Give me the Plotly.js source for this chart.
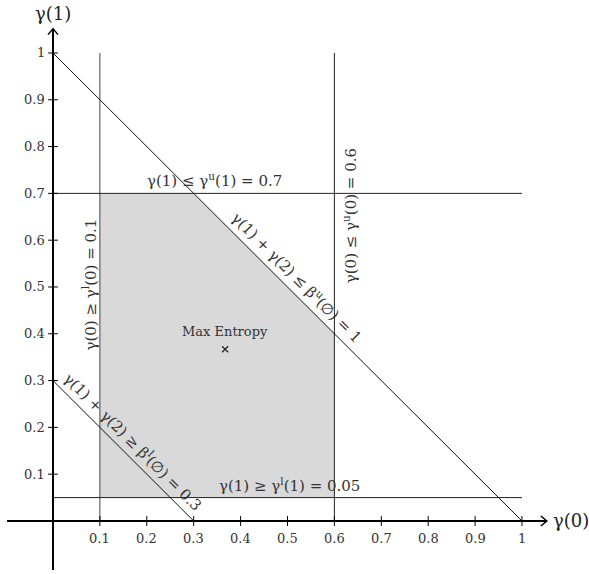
<!DOCTYPE html>
<html><head><meta charset="utf-8">
<script src="https://cdn.plot.ly/plotly-3.0.1.min.js"></script>
<style>html,body{margin:0;padding:0;background:#fff}#chart{width:589px;height:574px}</style>
</head><body><div id="chart"></div>
<script>
// ---- data ----
const xTickValues = [0.1,0.2,0.3,0.4,0.5,0.6,0.7,0.8,0.9,1];
const xTickLabels = ['0.1','0.2','0.3','0.4','0.5','0.6','0.7','0.8','0.9','1'];
const yTickValues = [0.1,0.2,0.3,0.4,0.5,0.6,0.7,0.8,0.9,1];
const yTickLabels = ['0.1','0.2','0.3','0.4','0.5','0.6','0.7','0.8','0.9','1'];
const gamma0Lower = 0.1;   // γ^l(0)
const gamma0Upper = 0.6;   // γ^u(0)
const gamma1Lower = 0.05;  // γ^l(1)
const gamma1Upper = 0.7;   // γ^u(1)
const betaUpper = 1;       // β^u(∅)
const betaLower = 0.3;     // β^l(∅)
const maxEntropyX = [0.367];
const maxEntropyY = [0.367];

// feasible region polygon from constraints
const polyX = [gamma0Lower, gamma0Upper, gamma0Upper, betaUpper-gamma1Upper, gamma0Lower, gamma0Lower];
const polyY = [gamma1Lower, gamma1Lower, betaUpper-gamma0Upper, gamma1Upper, gamma1Upper, gamma1Lower];

const FONT = 'DejaVu Serif';
const traces = [];
traces.push({x: polyX, y: polyY, mode:'lines', fill:'toself', fillcolor:'#d9d9d9', line:{width:0}, hoverinfo:'skip'});
// constraint lines
traces.push({x:[gamma0Lower,gamma0Lower], y:[0,1], mode:'lines', line:{color:'#444',width:1}});
traces.push({x:[gamma0Upper,gamma0Upper], y:[0,1], mode:'lines', line:{color:'#222',width:1}});
traces.push({x:[0,1], y:[gamma1Upper,gamma1Upper], mode:'lines', line:{color:'#222',width:1}});
traces.push({x:[0,1], y:[gamma1Lower,gamma1Lower], mode:'lines', line:{color:'#222',width:1}});
traces.push({x:[0,betaUpper], y:[betaUpper,0], mode:'lines', line:{color:'#111',width:1}});
traces.push({x:[0,betaLower], y:[betaLower,0], mode:'lines', line:{color:'#111',width:1}});
// axes
traces.push({x:[-0.098,1.052], y:[0,0], mode:'lines', line:{color:'#000',width:2}});
traces.push({x:[0,0], y:[-0.105,1.05], mode:'lines', line:{color:'#000',width:2}});
// tick marks
traces.push({x:xTickValues, y:xTickValues.map(()=>0), mode:'markers', marker:{symbol:'line-ns-open',size:7,color:'#000',line:{color:'#000',width:1}}});
traces.push({x:yTickValues.map(()=>0), y:yTickValues, mode:'markers', marker:{symbol:'line-ew-open',size:7,color:'#000',line:{color:'#000',width:1}}});
// max entropy marker
traces.push({x:maxEntropyX, y:maxEntropyY, mode:'markers', marker:{symbol:'x-thin-open',size:6,color:'#222',line:{color:'#222',width:1.2}}});

const dx = 6/469, dy = 5/468;
const shapes = [
  {type:'path', xref:'x', yref:'y', path:`M ${1.053-dx} ${dy} L 1.053 0 L ${1.053-dx} ${-dy}`, line:{color:'#000',width:1.5}},
  {type:'path', xref:'x', yref:'y', path:`M ${-5/469} ${1.052-6/468} L 0 1.052 L ${5/469} ${1.052-6/468}`, line:{color:'#000',width:1.5}}
];

const ann = [];
xTickValues.forEach((v,i)=>ann.push({x:v,y:0,text:xTickLabels[i],showarrow:false,yshift:-18,font:{family:FONT,size:13,color:'#333'}}));
yTickValues.forEach((v,i)=>ann.push({x:0,y:v,text:yTickLabels[i],showarrow:false,xanchor:'right',xshift:-6,font:{family:FONT,size:13,color:'#333'}}));
const lf = {family:FONT,size:15,color:'#333'};
ann.push({x:0,y:1.085,text:'γ(1)',showarrow:false,font:{family:FONT,size:18,color:'#222'}});
ann.push({x:1.104,y:0,text:'γ(0)',showarrow:false,font:{family:FONT,size:18,color:'#222'}});
ann.push({x:0.345,y:gamma1Upper,yshift:13,text:'γ(1) ≤ γ<sup>u</sup>(1) = 0.7',showarrow:false,font:lf});
ann.push({x:0.505,y:gamma1Lower,yshift:13,text:'γ(1) ≥ γ<sup>l</sup>(1) = 0.05',showarrow:false,font:lf});
ann.push({x:gamma0Lower,xshift:-11,y:0.505,text:'γ(0) ≥ γ<sup>l</sup>(0) = 0.1',textangle:-90,showarrow:false,font:lf});
ann.push({x:gamma0Upper,xshift:15,y:0.652,text:'γ(0) ≤ γ<sup>u</sup>(0) = 0.6',textangle:-90,showarrow:false,font:lf});
ann.push({x:0.5,y:0.5,xshift:10,yshift:10,text:'γ(1) + γ(2) ≤ β<sup>u</sup>(∅) = 1',textangle:45,showarrow:false,font:lf});
ann.push({x:0.15,y:0.15,xshift:10,yshift:10,text:'γ(1) + γ(2) ≥ β<sup>l</sup>(∅) = 0.3',textangle:45,showarrow:false,font:lf});
ann.push({x:maxEntropyX[0],y:maxEntropyY[0],yshift:18,text:'Max Entropy',showarrow:false,font:{family:FONT,size:13,color:'#333'}});

const layout = {
  width:589, height:574, margin:{l:0,r:0,t:0,b:0}, showlegend:false,
  paper_bgcolor:'#fff', plot_bgcolor:'#fff',
  xaxis:{range:[-0.1130,1.1429], visible:false, fixedrange:true},
  yaxis:{range:[-0.1133,1.1132], visible:false, fixedrange:true},
  shapes:shapes, annotations:ann, hovermode:false
};
Plotly.newPlot('chart', traces, layout, {staticPlot:true});
</script></body></html>
